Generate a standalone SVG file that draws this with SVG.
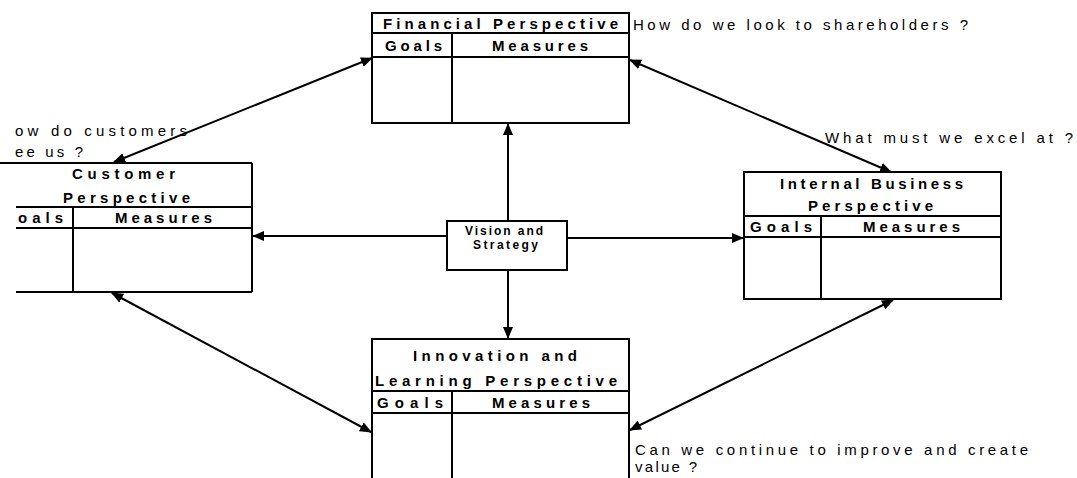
<svg xmlns="http://www.w3.org/2000/svg" width="1077" height="478" viewBox="0 0 1077 478">
<defs>
<style>
.box{fill:none;stroke:#000;stroke-width:2}
.ln{stroke:#000;stroke-width:2;fill:none}
.t{font-family:"Liberation Sans",Arial,sans-serif;font-weight:bold;font-size:15px;fill:#000}
.q{font-family:"Liberation Sans",Arial,sans-serif;font-size:15px;fill:#000}
.v{font-family:"Liberation Sans",Arial,sans-serif;font-weight:bold;font-size:12px;fill:#000}
.c{stroke:#000;stroke-width:2;fill:none;marker-end:url(#ah)}
.cc{stroke:#000;stroke-width:2;fill:none;marker-start:url(#ah);marker-end:url(#ah)}
</style>
<marker id="ah" viewBox="0 0 12 10" refX="11" refY="5" markerWidth="12" markerHeight="10" markerUnits="userSpaceOnUse" orient="auto-start-reverse">
<path d="M0,0 L12,5 L0,10 Z" fill="#000"/>
</marker>
</defs>
<rect width="1077" height="478" fill="#fff"/>

<g id="financial">
<rect class="box" x="372" y="13" width="257" height="110"/>
<line class="ln" x1="372" y1="33" x2="629" y2="33"/>
<line class="ln" x1="372" y1="57" x2="629" y2="57"/>
<line class="ln" x1="452" y1="33" x2="452" y2="123"/>
<text class="t" x="383" y="29" textLength="235" lengthAdjust="spacing">Financial Perspective</text>
<text class="t" x="385" y="51" textLength="57" lengthAdjust="spacing">Goals</text>
<text class="t" x="492" y="51" textLength="96" lengthAdjust="spacing">Measures</text>
<text class="q" x="633" y="30" textLength="335" lengthAdjust="spacing">How do we look to shareholders ?</text>
</g>

<g id="customer">
<line class="ln" x1="0" y1="163" x2="252" y2="163"/>
<line class="ln" x1="252" y1="163" x2="252" y2="292"/>
<line class="ln" x1="16" y1="207" x2="252" y2="207"/>
<line class="ln" x1="16" y1="228" x2="252" y2="228"/>
<line class="ln" x1="16" y1="292" x2="252" y2="292"/>
<line class="ln" x1="73" y1="207" x2="73" y2="292"/>
<text class="t" x="72" y="179" textLength="103" lengthAdjust="spacing">Customer</text>
<text class="t" x="63" y="203" textLength="127" lengthAdjust="spacing">Perspective</text>
<text class="t" x="18" y="223" textLength="45" lengthAdjust="spacing">oals</text>
<text class="t" x="115" y="223" textLength="97" lengthAdjust="spacing">Measures</text>
<text class="q" x="15" y="136" textLength="172" lengthAdjust="spacing">ow do customers</text>
<text class="q" x="15" y="157" textLength="68" lengthAdjust="spacing">ee us ?</text>
</g>

<g id="internal">
<rect class="box" x="744" y="172" width="257" height="127"/>
<line class="ln" x1="744" y1="216" x2="1001" y2="216"/>
<line class="ln" x1="744" y1="237" x2="1001" y2="237"/>
<line class="ln" x1="821" y1="216" x2="821" y2="299"/>
<text class="t" x="780" y="189" textLength="183" lengthAdjust="spacing">Internal Business</text>
<text class="t" x="808" y="211" textLength="125" lengthAdjust="spacing">Perspective</text>
<text class="t" x="750" y="232" textLength="62" lengthAdjust="spacing">Goals</text>
<text class="t" x="863" y="232" textLength="97" lengthAdjust="spacing">Measures</text>
<text class="q" x="825" y="143" textLength="248" lengthAdjust="spacing">What must we excel at ?</text>
</g>

<g id="innovation">
<rect class="box" x="372" y="339" width="257" height="145"/>
<line class="ln" x1="372" y1="391" x2="629" y2="391"/>
<line class="ln" x1="372" y1="413" x2="629" y2="413"/>
<line class="ln" x1="452" y1="391" x2="452" y2="478"/>
<text class="t" x="413" y="361" textLength="164" lengthAdjust="spacing">Innovation and</text>
<text class="t" x="375" y="386" textLength="242" lengthAdjust="spacing">Learning Perspective</text>
<text class="t" x="377" y="408" textLength="66" lengthAdjust="spacing">Goals</text>
<text class="t" x="492" y="408" textLength="98" lengthAdjust="spacing">Measures</text>
<text class="q" x="635" y="455" textLength="393" lengthAdjust="spacing">Can we continue to improve and create</text>
<text class="q" x="635" y="472" textLength="62" lengthAdjust="spacing">value ?</text>
</g>

<g id="vision">
<rect class="box" x="447" y="221" width="120" height="49"/>
<text class="v" x="465" y="235" textLength="78" lengthAdjust="spacing">Vision and</text>
<text class="v" x="473" y="249" textLength="65" lengthAdjust="spacing">Strategy</text>
</g>

<g id="connectors">
<line class="c" x1="508" y1="221" x2="508" y2="124"/>
<line class="c" x1="508" y1="270" x2="508" y2="338"/>
<line class="c" x1="447" y1="236" x2="253" y2="236"/>
<line class="c" x1="567" y1="238" x2="743" y2="238"/>
<line class="cc" x1="372" y1="58" x2="114" y2="162"/>
<line class="cc" x1="630" y1="60" x2="891" y2="172"/>
<line class="cc" x1="112" y1="293" x2="371" y2="432"/>
<line class="cc" x1="630" y1="430" x2="893" y2="300"/>
</g>
</svg>
